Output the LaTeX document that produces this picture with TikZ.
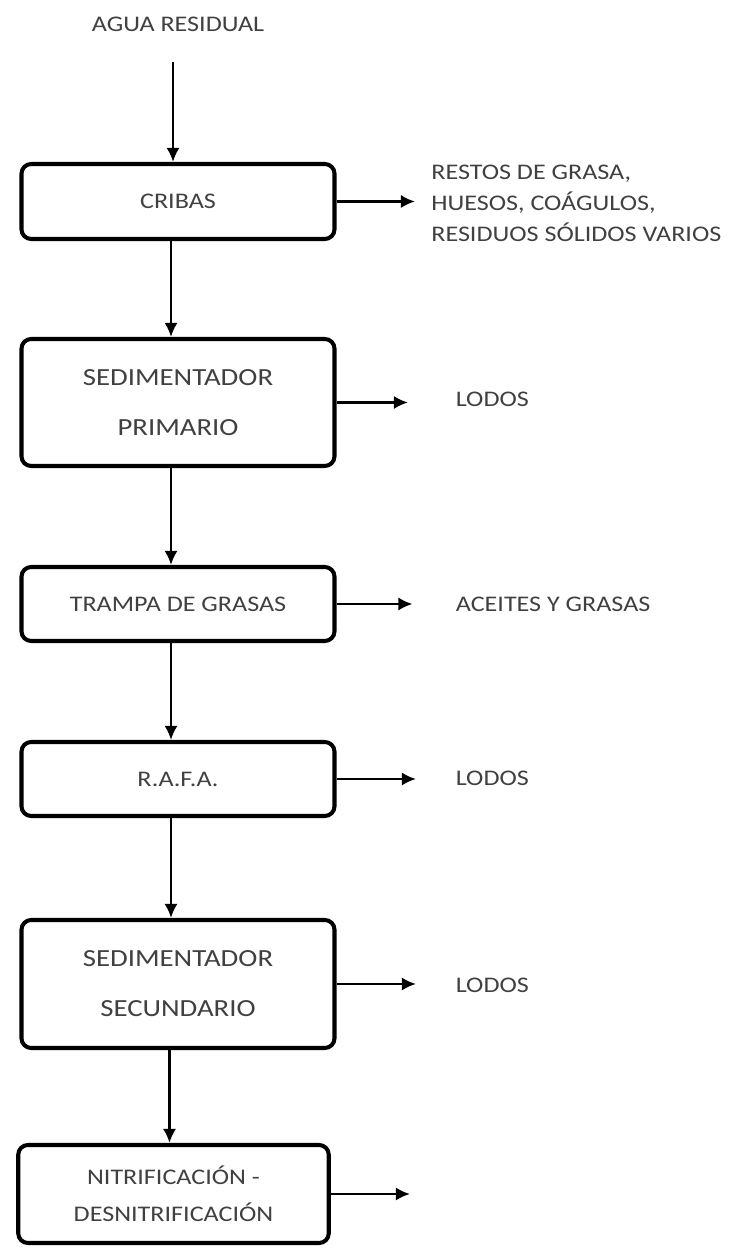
\documentclass[tikz,border=0pt]{standalone}
\usepackage{fontspec}
\setmainfont{Carlito}[FakeStretch=1.17]
\usetikzlibrary{arrows.meta}

\tikzset{
  etapa/.style={draw,line width=2.3pt,rounded corners=5.5pt,minimum width=6.26cm,align=center,text=black!75},
  salida/.style={anchor=west,inner sep=0pt,align=left,text=black!75},
}

\begin{document}
\begin{tikzpicture}[>={Latex[length=8pt,width=7.5pt]},line width=1.5pt,font=\fontsize{12.7}{15}\selectfont]
\useasboundingbox (0,0) rectangle (14.62,25);
\node[text=black!75] (agua) at (3.56,24.52) {AGUA RESIDUAL};
\coordinate (inlet) at (3.46,23.76);
\node[etapa,minimum height=1.50cm] (cribas) at (3.56,20.97) {CRIBAS};
\node[etapa,minimum height=2.54cm,font=\fontsize{14}{28.5}\selectfont] (sedprim) at (3.56,16.95) {SEDIMENTADOR\\PRIMARIO};
\node[etapa,minimum height=1.48cm] (trampa) at (3.56,12.92) {TRAMPA DE GRASAS};
\node[etapa,minimum height=1.48cm] (rafa) at (3.56,9.42) {R.A.F.A.};
\node[etapa,minimum height=2.56cm,font=\fontsize{14}{28.5}\selectfont] (sedsec) at (3.56,5.32) {SEDIMENTADOR\\SECUNDARIO};
\node[etapa,minimum height=1.96cm,minimum width=6.21cm,font=\fontsize{12.7}{21}\selectfont] (nitri) at (3.47,1.12) {NITRIFICACIÓN -\\DESNITRIFICACIÓN};
% salidas laterales
\coordinate (s1) at (8.30,20.97);
\coordinate (s2) at (8.16,16.95);
\coordinate (s3) at (8.25,12.92);
\coordinate (s4) at (8.32,9.42);
\coordinate (s5) at (8.32,5.32);
\coordinate (s6) at (8.20,1.12);
\node[salida,font=\fontsize{12.7}{17.6}\selectfont] (restos) at (8.60,20.93) {RESTOS DE GRASA,\\HUESOS, COÁGULOS,\\RESIDUOS SÓLIDOS VARIOS};
\node[salida] (lodos1) at (9.09,17.02) {LODOS};
\node[salida] (aceites) at (9.09,12.92) {ACEITES Y GRASAS};
\node[salida] (lodos2) at (9.09,9.44) {LODOS};
\node[salida] (lodos3) at (9.09,5.30) {LODOS};
\draw[->] (inlet) -- (inlet |- cribas.north);
\draw[->] ([xshift=-0.14cm]cribas.south) -- ([xshift=-0.14cm]sedprim.north);
\draw[->] ([xshift=-0.14cm]sedprim.south) -- ([xshift=-0.14cm]trampa.north);
\draw[->] ([xshift=-0.14cm]trampa.south) -- ([xshift=-0.14cm]rafa.north);
\draw[->] ([xshift=-0.14cm]rafa.south) -- ([xshift=-0.14cm]sedsec.north);
\draw[->] ([xshift=-0.17cm]sedsec.south) -- ([xshift=-0.17cm]sedsec.south |- nitri.north);
\draw[->] (cribas) -- (s1);
\draw[->] (sedprim) -- (s2);
\draw[->] (trampa) -- (s3);
\draw[->] (rafa) -- (s4);
\draw[->] (sedsec) -- (s5);
\draw[->] (nitri) -- (s6);
\end{tikzpicture}
\end{document}
